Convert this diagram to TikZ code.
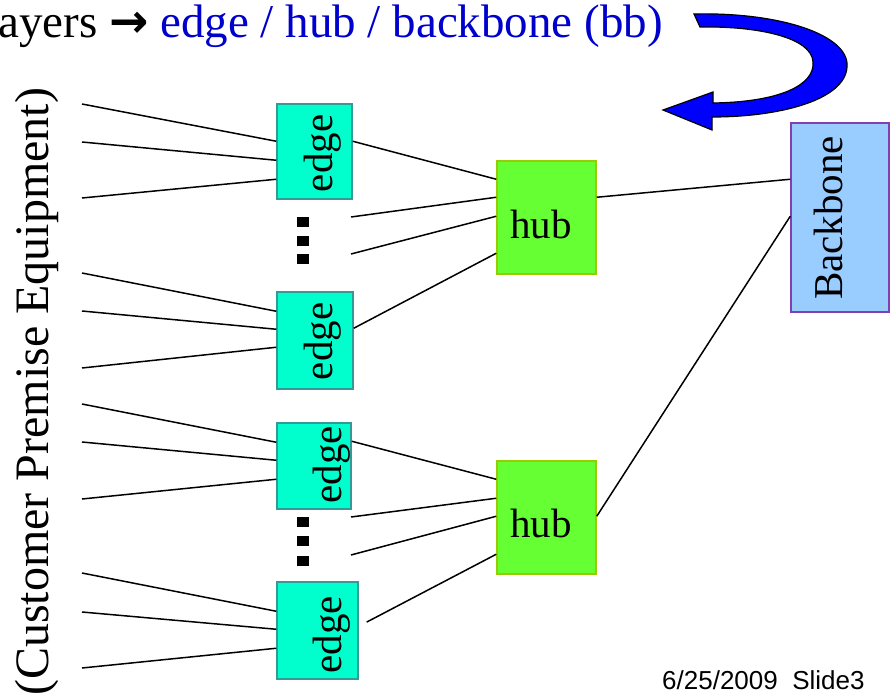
\documentclass[tikz,border=0pt]{standalone}
\usepackage{fontspec}
\setmainfont{Liberation Serif}
\newfontfamily\arrowfont{DejaVu Sans}
\newfontfamily\footfont{Liberation Sans}
\usepackage{tikz}
\usetikzlibrary{calc}

\definecolor{edgefill}{HTML}{00FFCC}
\definecolor{edgeline}{HTML}{339999}
\definecolor{hubfill}{HTML}{66FF33}
\definecolor{hubline}{HTML}{99CC00}
\definecolor{bbfill}{HTML}{99CCFF}
\definecolor{bbline}{HTML}{8040B0}
\definecolor{titleblue}{HTML}{0000CC}
\definecolor{arrowblue}{HTML}{0000FF}

\tikzset{
  edgebox/.style={draw=edgeline, fill=edgefill, line width=1.5pt, minimum width=75pt, minimum height=95pt, inner sep=0pt},
  hubbox/.style={draw=hubline, fill=hubfill, line width=1.5pt, minimum width=99pt, minimum height=113pt, inner sep=0pt},
  bbbox/.style={draw=bbline, fill=bbfill, line width=1.5pt, minimum width=98pt, minimum height=189pt, inner sep=0pt},
  boxtext/.style={inner sep=0pt, font=\fontsize{41}{44}\selectfont},
  wire/.style={line width=1.5pt},
  dotbox/.style={fill=black, minimum width=12pt, minimum height=10pt, inner sep=0pt}
}

\begin{document}
\begin{tikzpicture}[x=1pt,y=-1pt]
\useasboundingbox (0,0) rectangle (891,695);

% title line
\node (title) at (663,38) [anchor=base east, inner sep=0pt, font=\fontsize{47}{50}\selectfont] {ayers {\arrowfont\bfseries →} \textcolor{titleblue}{edge / hub / backbone (bb)}};
\filldraw[fill=arrowblue, draw=black, line width=1.2pt] (694,14) .. controls (780,12) and (850,35) .. (847,67) .. controls (845,100) and (780,117) .. (712,117) -- (712,130) -- (663,110) -- (713,92) -- (713,103) .. controls (780,102) and (815,85) .. (813,62) .. controls (812,38) and (760,26) .. (700,27) -- cycle;

% customer side
\node (cpe) at (37,392) [rotate=90, inner sep=0pt, font=\fontsize{48}{51}\selectfont] {(Customer Premise Equipment)};
\foreach \n/\y in {1/104,2/142,3/198,4/273,5/311,6/368,7/404,8/442,9/499,10/573,11/612,12/668}
  \coordinate (c\n) at (82,\y);

% edge layer
\node (e1) at (314.5,151.5) [edgebox] {};
\node (e2) at (315,340.5) [edgebox, minimum width=76pt, minimum height=97pt] {};
\node (e3) at (314,466) [edgebox, minimum width=74pt, minimum height=86pt] {};
\node (e4) at (317.5,630.5) [edgebox, minimum width=81pt, minimum height=97pt] {};
\node (t1) at (323,153.5) [boxtext, rotate=90] {edge};
\node (t2) at (323,341.5) [boxtext, rotate=90] {edge};
\node (t3) at (332,465) [boxtext, rotate=90] {edge};
\node (t4) at (332,635) [boxtext, rotate=90] {edge};

\node (d1) at (303,222) [dotbox] {};
\node (d2) at (303,241) [dotbox] {};
\node (d3) at (303,259) [dotbox] {};
\node (d4) at (303,522) [dotbox] {};
\node (d5) at (303,541) [dotbox] {};
\node (d6) at (303,561) [dotbox] {};

% hub and backbone layer
\node (h1) at (546.5,217.5) [hubbox] {};
\node (h2) at (546.5,517.5) [hubbox] {};
\node (ht1) at (541,224) [boxtext] {hub};
\node (ht2) at (541,523) [boxtext] {hub};
\node (bb) at (840,217.5) [bbbox] {};
\node (bbt) at (828.5,218) [boxtext, rotate=90] {Backbone};

% customer lines into the edges
\foreach \n/\b/\t in {1/e1/38,2/e1/57,3/e1/76,4/e2/20,5/e2/38,6/e2/56,7/e3/20,8/e3/38,9/e3/57,10/e4/30,11/e4/48,12/e4/67}
  \draw[wire] (c\n) -- ($(\b.north west)+(0,\t)$);

% edges into the hubs
\coordinate (m1) at (351,217);
\coordinate (m2) at (351,254);
\coordinate (m3) at (351,517);
\coordinate (m4) at (351,555);
\draw[wire] ($(e1.north east)+(0,38)$) -- ($(h1.north west)+(0,19)$);
\draw[wire] (m1) -- ($(h1.north west)+(0,37)$);
\draw[wire] (m2) -- ($(h1.north west)+(0,56)$);
\draw[wire] ($(e2.north east)+(0,37)$) -- ($(h1.north west)+(0,93)$);
\draw[wire] ($(e3.north east)+(0,19)$) -- ($(h2.north west)+(0,19)$);
\draw[wire] (m3) -- ($(h2.north west)+(0,38)$);
\draw[wire] (m4) -- ($(h2.north west)+(0,56)$);
\draw[wire, shorten <=9pt] ($(e4.north east)+(0,45)$) -- ($(h2.north west)+(0,94)$);

% hubs into the backbone
\draw[wire] ($(h1.north east)+(0,37)$) -- ($(bb.north west)+(0,57)$);
\draw[wire] ($(h2.north east)+(0,56)$) -- ($(bb.north west)+(0,94)$);

\node (foot) at (662,689) [anchor=base west, inner sep=0pt, font=\footfont\fontsize{26}{28}\selectfont] {6/25/2009\ \ Slide3};
\end{tikzpicture}
\end{document}
